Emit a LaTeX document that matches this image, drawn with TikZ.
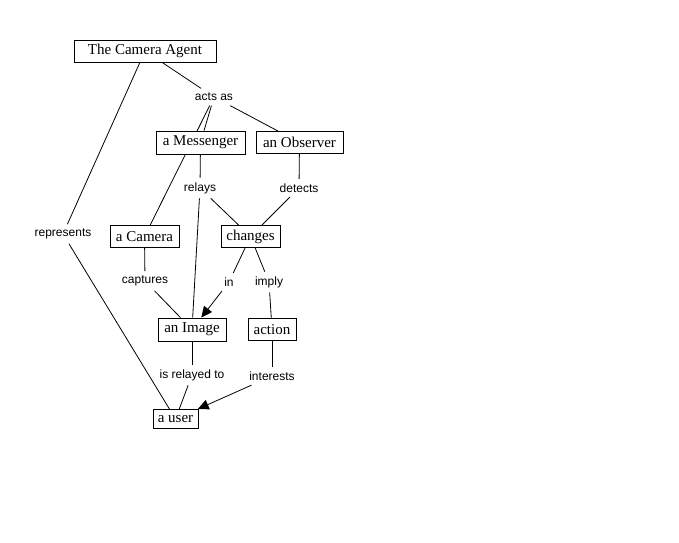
\documentclass[tikz,border=0pt]{standalone}
\usepackage{fontspec}
\setmainfont{Liberation Serif}
\newfontfamily\labelfont{Liberation Sans}
\usetikzlibrary{arrows.meta,backgrounds}
\tikzset{
  concept/.style={draw, fill=white, line width=0.8pt, font=\fontsize{15}{15}\selectfont, inner sep=0pt, anchor=center},
  linkphrase/.style={font=\labelfont\fontsize{12}{12}\selectfont, inner xsep=3pt, inner ysep=4.5pt, anchor=center},
  conn/.style={line width=0.8pt},
  arr/.style={conn, -{Triangle[length=11pt,width=10pt]}}
}
\begin{document}
\begin{tikzpicture}[x=1pt,y=-1pt]
\useasboundingbox (0,0) rectangle (679,542);
% concepts
\node[concept, minimum width=142pt, minimum height=22pt] (ca) at (145,51) {The Camera Agent};
\node[concept, minimum width=89pt, minimum height=23pt] (mess) at (200.5,142.5) {a Messenger};
\node[concept, minimum width=87pt, minimum height=22pt] (obs) at (299.5,142.5) {an Observer};
\node[concept, minimum width=69pt, minimum height=22pt] (cam) at (144.5,236.5) {a Camera};
\node[concept, minimum width=59pt, minimum height=22pt] (chg) at (250.5,236.5) {changes};
\node[concept, minimum width=68pt, minimum height=23pt] (img) at (192,329.5) {an Image};
\node[concept, minimum width=48pt, minimum height=22pt] (act) at (272,329.5) {action};
\node[concept, minimum width=45pt, minimum height=19pt] (user) at (175.5,419) {a user};
% linking phrases
\node[linkphrase] (actsas) at (214,97) {acts as};
\node[linkphrase] (relays) at (200,188) {relays};
\node[linkphrase] (detects) at (299,188) {detects};
\node[linkphrase] (repr) at (63,234) {represents};
\node[linkphrase] (capt) at (145,281) {captures};
\node[linkphrase] (in) at (229,282) {in};
\node[linkphrase] (imply) at (269,282) {imply};
\node[linkphrase] (isrel) at (192,375) {is relayed to};
\node[linkphrase] (inter) at (272,376) {interests};
% connectors
\begin{scope}[on background layer]
\fill[white] (0,0) rectangle (679,542);
\draw[conn] (ca) -- (actsas);
\draw[conn] (actsas) -- (mess);
\draw[conn] (actsas) -- (obs);
\draw[conn] (actsas) -- (cam);
\draw[conn] (ca) -- (repr);
\draw[conn] (repr) -- (user);
\draw[conn] (mess) -- (relays);
\draw[conn] (relays) -- (chg);
\draw[conn] (relays) -- (img);
\draw[conn] (obs) -- (detects);
\draw[conn] (detects) -- (chg);
\draw[conn] (cam) -- (capt);
\draw[conn] (capt) -- (img);
\draw[conn] (chg) -- (in);
\draw[arr] (in) -- (img);
\draw[conn] (chg) -- (imply);
\draw[conn] (imply) -- (act);
\draw[conn] (img) -- (isrel);
\draw[conn] (isrel) -- (user);
\draw[conn] (act) -- (inter);
\draw[arr] (inter) -- (user);
\end{scope}
\end{tikzpicture}
\end{document}
